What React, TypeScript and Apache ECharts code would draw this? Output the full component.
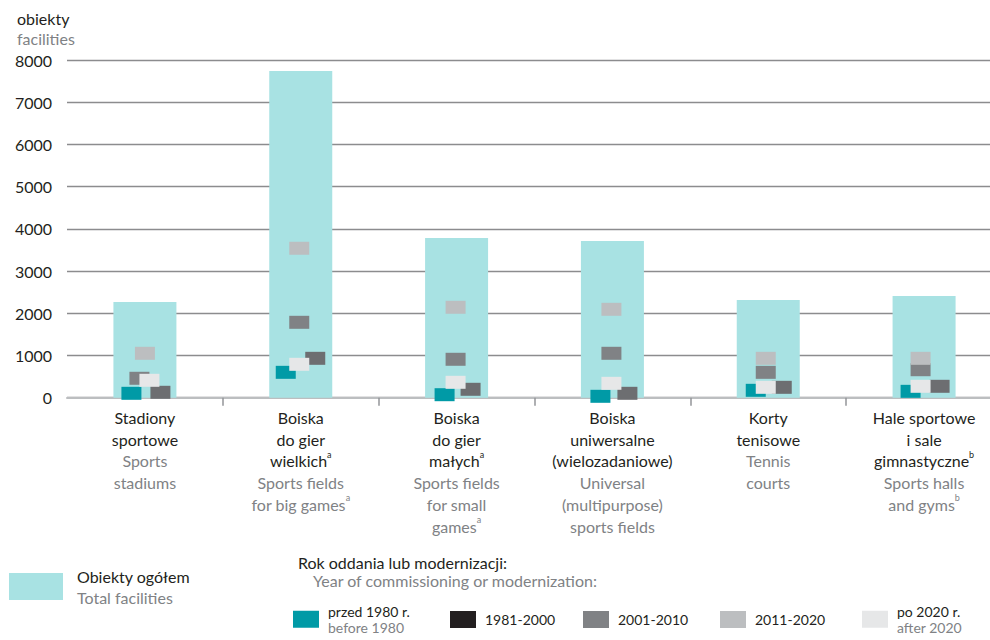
import React, { useEffect, useRef } from "react";
import * as echarts from "echarts";

// ---------- data ----------
const categoriesPl = [
  "Stadiony\nsportowe",
  "Boiska\ndo gier\nwielkich^a",
  "Boiska\ndo gier\nmałych^a",
  "Boiska\nuniwersalne\n(wielozadaniowe)",
  "Korty\ntenisowe",
  "Hale sportowe\ni sale\ngimnastyczne^b",
];
const categoriesEn = [
  "Sports\nstadiums",
  "Sports fields\nfor big games^a",
  "Sports fields\nfor small\ngames^a",
  "Universal\n(multipurpose)\nsports fields",
  "Tennis\ncourts",
  "Sports halls\nand gyms^b",
];

const totalFacilities = [2267, 7740, 3783, 3712, 2315, 2409];
const before1980 = [104, 601, 71, 33, 175, 151];
const y1981to2000 = [128, 933, 199, 104, 246, 270];
const y2001to2010 = [460, 1786, 910, 1052, 601, 663];
const y2011to2020 = [1052, 3540, 2142, 2094, 933, 933];
const after2020 = [412, 791, 365, 341, 246, 270];

const yTicks = { min: 0, max: 8000, interval: 1000 };

const seriesNames = ["przed 1980 r.", "1981-2000", "2001-2010", "2011-2020", "po 2020 r."];
const seriesNamesEn = ["before 1980", "", "", "", "after 2020"];
const totalName = "Obiekty ogółem";
const totalNameEn = "Total facilities";
const legendTitlePl = "Rok oddania lub modernizacji:";
const legendTitleEn = "Year of commissioning or modernization:";
const axisTitlePl = "obiekty";
const axisTitleEn = "facilities";

// ---------- styles / layout ----------
const FONT = "Lato";
const DARK = "#231f20";
const GREY_TEXT = "#808285";
const BAR_COLOR = "#a8e2e3";
const markerColors = ["#009aa6", "#6d6e71", "#808285", "#bcbec0", "#e6e7e8"];
const legendColors = ["#009aa6", "#231f20", "#808285", "#bcbec0", "#e6e7e8"];
// horizontal jitter of markers inside each category (px)
const markerShift = [
  [-13.5, -15, -12, -12, -12.5, -13.5],
  [15.5, 14.5, 14, 15, 13.5, 15.5],
  [-5.5, -1.5, -1, -1, -2.5, -3.5],
  [0, -1.5, -1, -1, -2.5, -3.5],
  [4.5, -1.5, -1, -1, -2.5, -3.5],
];
const legendLeft = [293, 450, 583, 720, 862];
// the plot area runs past the right edge of the 990px picture
const CANVAS_W = 1002;

function richLines(text: string, main: string, sup: string) {
  return text
    .split("\n")
    .map((line) => {
      const m = line.match(/^(.*)\^(\w)$/);
      if (m) return `{${main}|${m[1]}}{${sup}|${m[2]}}`;
      return `{${main}|${line}}`;
    })
    .join("\n");
}

export default function App() {
  const ref = useRef<HTMLDivElement>(null);
  useEffect(() => {
    if (!ref.current) return;
    const chart = echarts.init(ref.current, undefined, { renderer: "svg" });
    const seriesData = [before1980, y1981to2000, y2001to2010, y2011to2020, after2020];

    const scatterSeries = seriesData.map((arr, si) => ({
      type: "scatter",
      name: seriesNames[si],
      symbol: "rect",
      symbolSize: [20, 13],
      itemStyle: { color: markerColors[si], opacity: 1 },
      emphasis: { disabled: true },
      z: 3,
      data: arr.map((v, ci) => ({ value: v, symbolOffset: [markerShift[si][ci], 0] })),
    }));

    const legendRich = {
      pl: { fontFamily: FONT, fontSize: 14, color: DARK, lineHeight: 16.5 },
      en: { fontFamily: FONT, fontSize: 14, color: GREY_TEXT, lineHeight: 16.5 },
    };

    const periodLegends = seriesNames.map((name, i) => ({
      show: true,
      left: legendLeft[i],
      top: seriesNamesEn[i] ? 604 : 611,
      padding: 0,
      orient: "horizontal",
      icon: "rect",
      itemWidth: 26,
      itemHeight: 17,
      selectedMode: false,
      data: [{ name, itemStyle: { color: legendColors[i] } }],
      formatter: (n: string) =>
        seriesNamesEn[i] ? `{pl|${n}}\n{en|${seriesNamesEn[i]}}` : `{pl|${n}}`,
      textStyle: { fontFamily: FONT, fontSize: 15, color: DARK, padding: [0, 0, 0, 4], rich: legendRich },
    }));

    const option: any = {
      animation: false,
      textStyle: { fontFamily: FONT },
      title: {
        text: axisTitlePl,
        subtext: axisTitleEn,
        left: 12,
        top: 3,
        itemGap: 0,
        textStyle: { fontFamily: FONT, fontSize: 16, fontWeight: "normal", color: DARK, lineHeight: 20 },
        subtextStyle: { fontFamily: FONT, fontSize: 16, color: GREY_TEXT, lineHeight: 20 },
      },
      grid: { left: 67, right: 0, top: 60, height: 337.7, containLabel: false },
      xAxis: {
        type: "category",
        data: categoriesPl,
        boundaryGap: true,
        axisLine: { show: true, lineStyle: { color: "#bcbec0", width: 2 } },
        axisTick: {
          show: true,
          length: 8,
          interval: (i: number) => i !== 0,
          lineStyle: { color: "#939598", width: 1.5 },
        },
        axisLabel: {
          interval: 0,
          margin: 9,
          formatter: (value: string, idx: number) =>
            richLines(value, "pl", "plsup") + "\n" + richLines(categoriesEn[idx], "en", "ensup"),
          rich: {
            pl: { fontFamily: FONT, fontSize: 16, color: DARK, lineHeight: 21.7 },
            en: { fontFamily: FONT, fontSize: 16, color: GREY_TEXT, lineHeight: 21.7 },
            plsup: { fontFamily: FONT, fontSize: 9, color: DARK, lineHeight: 12, verticalAlign: "top" },
            ensup: { fontFamily: FONT, fontSize: 9, color: GREY_TEXT, lineHeight: 12, verticalAlign: "top" },
          },
        },
      },
      yAxis: {
        type: "value",
        min: yTicks.min,
        max: yTicks.max,
        interval: yTicks.interval,
        axisLine: { show: false },
        axisTick: { show: false },
        axisLabel: {
          margin: 15,
          fontFamily: FONT,
          fontSize: 16,
          color: DARK,
          formatter: (v: number) => String(v),
        },
        splitLine: { show: true, lineStyle: { color: "#8c8c8e", width: 1.3 } },
      },
      legend: [
        {
          show: true,
          left: 9,
          top: 568,
          padding: 0,
          icon: "rect",
          itemWidth: 54,
          itemHeight: 27,
          selectedMode: false,
          data: [{ name: totalName, itemStyle: { color: BAR_COLOR } }],
          formatter: (n: string) => `{pl|${n}}\n{en|${totalNameEn}}`,
          textStyle: {
            fontFamily: FONT,
            fontSize: 16,
            color: DARK,
            padding: [0, 0, 0, 9],
            rich: {
              pl: { fontFamily: FONT, fontSize: 16, color: DARK, lineHeight: 21 },
              en: { fontFamily: FONT, fontSize: 16, color: GREY_TEXT, lineHeight: 21 },
            },
          },
        },
        ...periodLegends,
      ],
      graphic: [
        {
          type: "text",
          left: 298,
          top: 554,
          style: { text: legendTitlePl, fontFamily: FONT, fontSize: 16, fill: DARK },
        },
        {
          type: "text",
          left: 313,
          top: 572,
          style: { text: legendTitleEn, fontFamily: FONT, fontSize: 16, fill: GREY_TEXT },
        },
      ],
      series: [
        {
          type: "bar",
          name: totalName,
          data: totalFacilities,
          barWidth: 63,
          itemStyle: { color: BAR_COLOR },
          emphasis: { disabled: true },
          z: 2,
        },
        ...scatterSeries,
      ],
    };
    chart.setOption(option);
    return () => chart.dispose();
  }, []);
  return (
    <div
      style={{
        position: "fixed",
        left: 0,
        top: 0,
        width: 990,
        height: 640,
        overflow: "hidden",
        background: "#fff",
      }}
    >
      <div ref={ref} style={{ width: CANVAS_W, height: 640 }} />
    </div>
  );
}
